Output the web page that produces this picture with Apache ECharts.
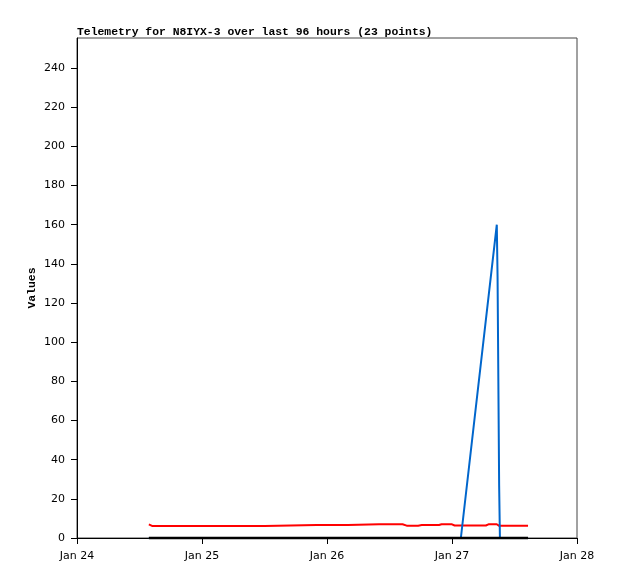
<!DOCTYPE html>
<html>
<head>
<meta charset="utf-8">
<script src="https://cdn.jsdelivr.net/npm/echarts@6/dist/echarts.min.js"></script>
<style>
  html, body { margin: 0; padding: 0; background: #fff; }
  #chart { width: 618px; height: 579px; }
</style>
</head>
<body>
<div id="chart"></div>
<script>
// hours since Jan 24 00:00
const hours = [13.8, 14.5, 36.0, 46.0, 52.0, 58.0, 62.5, 63.3, 65.5, 66.2, 69.5, 70.0,
  72.0, 72.5, 73.7, 78.5, 79.0, 80.6, 80.75, 80.9, 81.05, 81.2, 86.6]
const redValues = [7.0, 6.1, 6.1, 6.6, 6.6, 7.0, 7.0, 6.3, 6.3, 6.6, 6.6, 7.0,
  7.0, 6.4, 6.4, 6.4, 7.0, 7.0, 6.2, 6.2, 6.2, 6.2, 6.2]
const blueValues = [0, 0, 0, 0, 0, 0, 0, 0, 0, 0, 0, 0,
  0, 0, 0, null, null, 160, 133, 80, 27, 0, 0]
const blackValues = [0, 0, 0, 0, 0, 0, 0, 0, 0, 0, 0, 0,
  0, 0, 0, 0, 0, 0, 0, 0, 0, 0, 0]
const xTicks = [0, 24, 48, 72, 96]
const xTickLabels = ['Jan 24', 'Jan 25', 'Jan 26', 'Jan 27', 'Jan 28']
const yTicks = [0, 20, 40, 60, 80, 100, 120, 140, 160, 180, 200, 220, 240]

const pairs = vals => hours.map((h, i) => [h, vals[i]])

const chart = echarts.init(document.getElementById('chart'))
chart.setOption({
  animation: false,
  title: {
    text: 'Telemetry for N8IYX-3 over last 96 hours (23 points)',
    left: 72,
    top: 22,
    textStyle: { fontFamily: 'Liberation Mono', fontWeight: 'bold', fontSize: 11.4, color: '#000' }
  },
  grid: {
    left: 77, top: 38, width: 500, height: 500,
    show: true, borderColor: '#444', borderWidth: 1, backgroundColor: 'transparent'
  },
  xAxis: {
    type: 'value',
    min: 0, max: 96, interval: 24,
    axisLine: { lineStyle: { color: '#000', width: 1 } },
    axisTick: { show: true, length: 6, lineStyle: { color: '#000' } },
    splitLine: { show: false },
    axisLabel: {
      margin: 13,
      fontFamily: 'DejaVu Sans', fontSize: 11, color: '#000',
      formatter: v => xTickLabels[xTicks.indexOf(v)] || ''
    }
  },
  yAxis: {
    type: 'value',
    min: 0, max: 255.3,
    name: 'Values',
    nameLocation: 'middle',
    nameGap: 39,
    nameMoveOverlap: false,
    nameRotate: 90,
    nameTextStyle: { fontFamily: 'Liberation Mono', fontWeight: 'bold', fontSize: 11.4, color: '#000' },
    axisLine: { show: true, lineStyle: { color: '#000', width: 1 } },
    axisTick: { show: true, length: 6, customValues: yTicks, lineStyle: { color: '#000' } },
    splitLine: { show: false },
    axisLabel: {
      margin: 12, customValues: yTicks,
      fontFamily: 'DejaVu Sans', fontSize: 11, color: '#000'
    }
  },
  series: [
    {
      type: 'line', data: pairs(redValues), showSymbol: false,
      lineStyle: { color: '#ff0000', width: 2 }
    },
    {
      type: 'line', data: pairs(blueValues), showSymbol: false, connectNulls: true,
      lineStyle: { color: '#0066cc', width: 2 }
    },
    {
      type: 'line', data: pairs(blackValues), showSymbol: false, clip: false,
      lineStyle: { color: '#000', width: 2.5 }
    }
  ]
})
</script>
</body>
</html>
